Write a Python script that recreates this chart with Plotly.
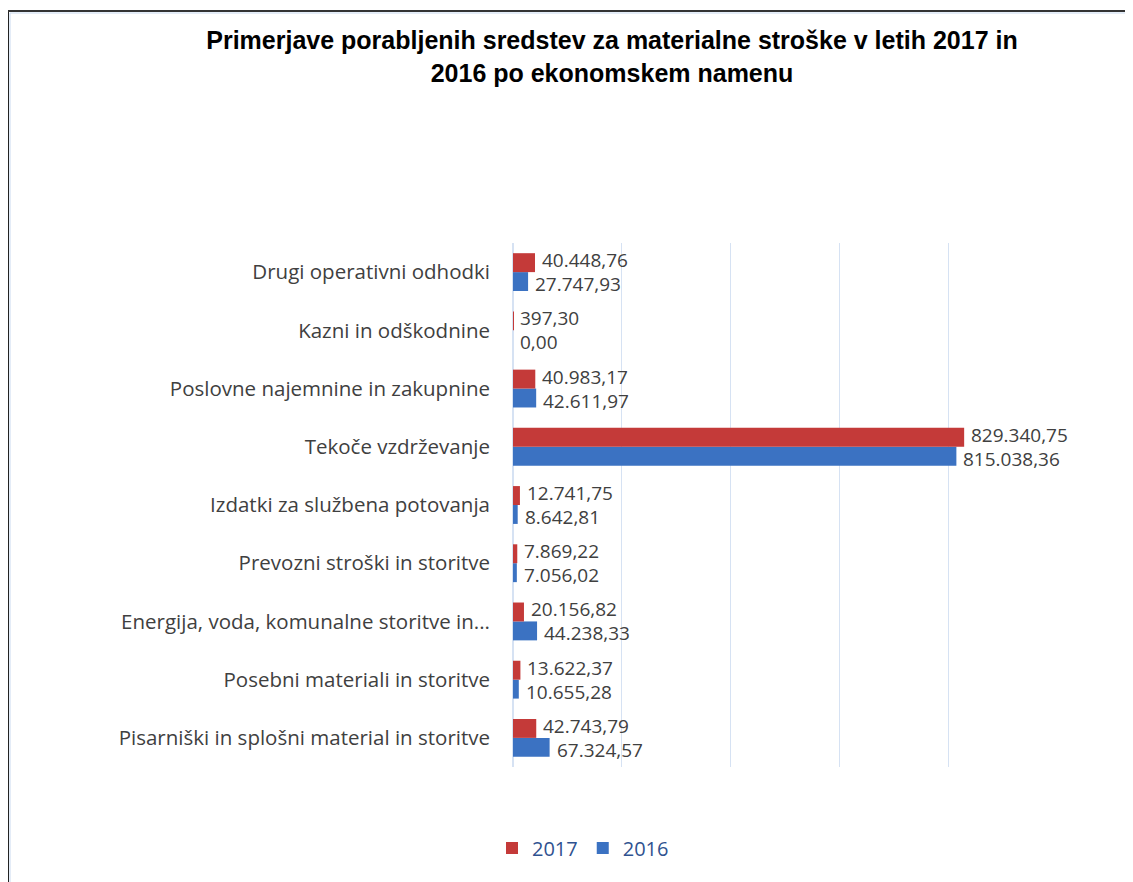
import plotly.graph_objects as go

categories = [
    "Pisarniški in splošni material in storitve",
    "Posebni materiali in storitve",
    "Energija, voda, komunalne storitve in...",
    "Prevozni stroški in storitve",
    "Izdatki za službena potovanja",
    "Tekoče vzdrževanje",
    "Poslovne najemnine in zakupnine",
    "Kazni in odškodnine",
    "Drugi operativni odhodki",
]
values_2017 = [42743.79, 13622.37, 20156.82, 7869.22, 12741.75, 829340.75, 40983.17, 397.30, 40448.76]
values_2016 = [67324.57, 10655.28, 44238.33, 7056.02, 8642.81, 815038.36, 42611.97, 0.00, 27747.93]

# page body has an 8px margin; work in page pixels and convert
OX, OY = 8, 8
W, H = 1125, 874
L, R = 513 - OX, (OX + W) - 1057
T, B = 243 - OY, (OY + H) - 767
pw, ph = W - L - R, H - T - B

FONT = "Open Sans, Noto Sans, sans-serif"
LABEL_COLOR = "#404040"


def px_x(p):
    return (p - OX - L) / pw


def px_y(p):
    return (OY + H - B - p) / ph


def fmt(v):
    s = f"{v:,.2f}"
    return s.replace(",", "X").replace(".", ",").replace("X", ".")


fig = go.Figure()
fig.add_trace(go.Bar(
    y=categories, x=values_2016, orientation="h", name="2016",
    marker=dict(color="#3B72C2", line=dict(width=0)),
))
fig.add_trace(go.Bar(
    y=categories, x=values_2017, orientation="h", name="2017",
    marker=dict(color="#C43A39", line=dict(width=0)),
))

annotations = []
for cat, v in zip(categories, values_2017):
    annotations.append(dict(
        x=v, y=cat, xref="x", yref="y", text=fmt(v), showarrow=False,
        xanchor="left", yanchor="middle", xshift=5, yshift=12,
        font=dict(family=FONT, size=19, color=LABEL_COLOR),
    ))
for cat, v in zip(categories, values_2016):
    annotations.append(dict(
        x=v, y=cat, xref="x", yref="y", text=fmt(v), showarrow=False,
        xanchor="left", yanchor="middle", xshift=5, yshift=-12,
        font=dict(family=FONT, size=19, color=LABEL_COLOR),
    ))

fig.update_layout(
    width=W, height=H,
    barmode="group", bargap=0.35, bargroupgap=0.0,
    margin=dict(l=L, r=R, t=T, b=B, autoexpand=False),
    paper_bgcolor="white", plot_bgcolor="white",
    title=dict(
        text="<b>Primerjave porabljenih sredstev za materialne stroške v letih 2017 in<br>2016 po ekonomskem namenu</b>",
        x=(612 - OX) / W, xanchor="center", y=1 - (49 - OY) / H, yanchor="middle",
        font=dict(family="Liberation Sans, Arial, sans-serif", size=25, color="#000000"),
    ),
    xaxis=dict(
        range=[0, 1000000], dtick=200000, showticklabels=False,
        showgrid=True, gridcolor="#D6E2F3", gridwidth=1,
        zeroline=True, zerolinecolor="#D6E2F3", showline=False, ticks="",
    ),
    yaxis=dict(
        categoryorder="array", categoryarray=categories,
        tickfont=dict(family=FONT, size=20.5, color=LABEL_COLOR),
        ticks="", showline=False, showgrid=False, ticklabelstandoff=22,
    ),
    legend=dict(
        orientation="h", traceorder="reversed",
        x=px_x(492), xanchor="left", y=px_y(848), yanchor="middle",
        font=dict(family=FONT, size=20, color="#2F5290"),
        itemwidth=30,
    ),
    annotations=annotations,
    shapes=[
        dict(type="line", xref="paper", yref="paper", x0=px_x(8), x1=px_x(8), y0=px_y(11), y1=px_y(900),
             line=dict(color="#222222", width=2)),
        dict(type="line", xref="paper", yref="paper", x0=px_x(8), x1=px_x(1150), y0=px_y(11), y1=px_y(11),
             line=dict(color="#333333", width=2)),
        dict(type="line", xref="paper", yref="paper", x0=px_x(10), x1=px_x(10), y0=px_y(13), y1=px_y(900),
             line=dict(color="#C9DAF0", width=1)),
        dict(type="line", xref="paper", yref="paper", x0=px_x(10), x1=px_x(1150), y0=px_y(13), y1=px_y(13),
             line=dict(color="#C9DAF0", width=1)),
    ],
)

fig.write_html("out.html")
